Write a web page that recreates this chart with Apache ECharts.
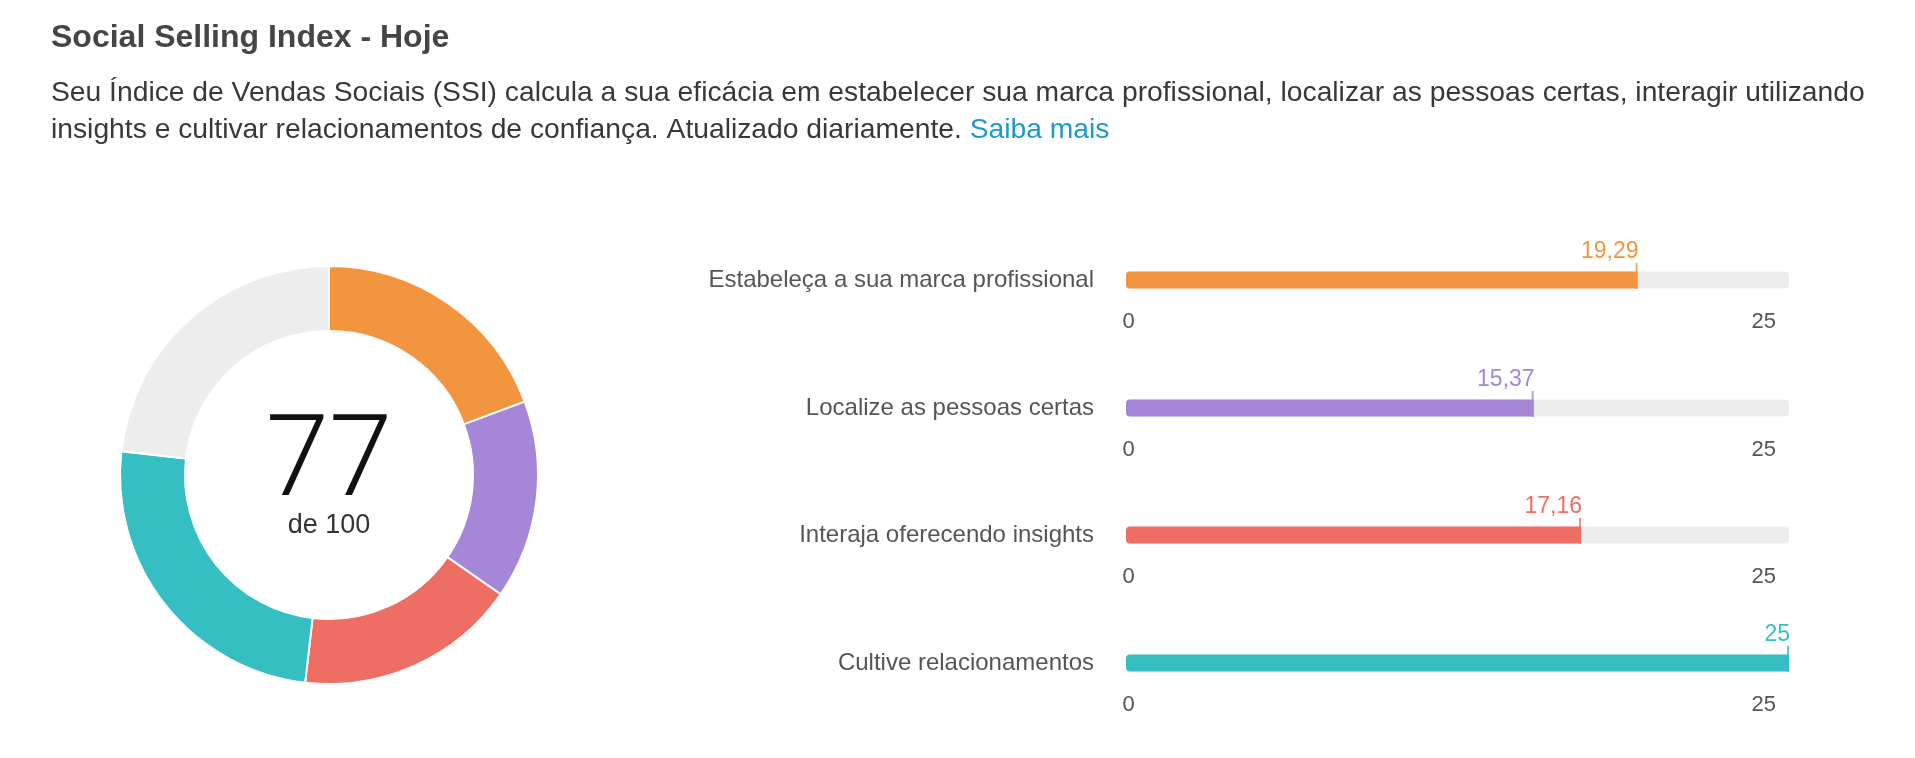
<!DOCTYPE html>
<html>
<head>
<meta charset="utf-8">
<script src="https://cdn.jsdelivr.net/npm/echarts@6/dist/echarts.min.js"></script>
<style>
html,body{margin:0;padding:0;background:#fff;}
#chart{width:1915px;height:758px;}
</style>
</head>
<body>
<div id="chart"></div>
<script>
// ---- data ----
const titleText = 'Social Selling Index - Hoje';
const descLine1 = 'Seu Índice de Vendas Sociais (SSI) calcula a sua eficácia em estabelecer sua marca profissional, localizar as pessoas certas, interagir utilizando';
const descLine2 = 'insights e cultivar relacionamentos de confiança. Atualizado diariamente. ';
const linkText = 'Saiba mais';
const categories = ['Estabeleça a sua marca profissional', 'Localize as pessoas certas', 'Interaja oferecendo insights', 'Cultive relacionamentos'];
const scores = [19.29, 15.37, 17.16, 25];
const pillarMax = 25;
const totalMax = 100;
const totalScore = 77;
const totalSubLabel = 'de 100';

// ---- styles ----
const palette = ['#F3953F', '#A586D7', '#EE6E63', '#35BFC2'];
const trackColor = '#EDEDED';
const fontFam = '"Liberation Sans", Arial, sans-serif';

const remaining = +(totalMax - scores.reduce((a, b) => a + b, 0)).toFixed(2);
const pieData = scores.map((v, i) => ({ value: v, name: categories[i], itemStyle: { color: palette[i] } }));
pieData.push({ value: remaining, name: 'resto', itemStyle: { color: trackColor } });

function fmt(v) { return Number.isInteger(v) ? String(v) : v.toFixed(2).replace('.', ','); }

const rowCenters = [280, 408, 535, 663];
const barH = 17;
const grids = [], xAxes = [], yAxes = [], series = [];

series.push({
  type: 'pie',
  center: [329, 475],
  radius: [144, 209],
  startAngle: 90,
  clockwise: true,
  silent: true,
  label: { show: false },
  labelLine: { show: false },
  itemStyle: { borderColor: '#fff', borderWidth: 2 },
  data: pieData
});

categories.forEach((c, i) => {
  grids.push({ left: 1126, width: 663, top: rowCenters[i] - barH / 2, height: barH, containLabel: false });
  xAxes.push({
    gridIndex: i, type: 'value', min: 0, max: pillarMax, interval: pillarMax,
    splitLine: { show: false }, axisLine: { show: false }, axisTick: { show: false },
    axisLabel: {
      color: '#555', fontSize: 22, fontFamily: fontFam, margin: 22,
      alignMinLabel: 'center', alignMaxLabel: 'right',
      formatter: v => (v === 0 ? '{a|' + v + '}' : '{b|' + v + '}'),
      rich: {
        a: { color: '#555', fontSize: 22, fontFamily: fontFam, padding: [0, 0, 0, 5] },
        b: { color: '#555', fontSize: 22, fontFamily: fontFam, padding: [0, 13, 0, 0] }
      }
    }
  });
  yAxes.push({
    gridIndex: i, type: 'category', data: [c],
    axisLine: { show: false }, axisTick: { show: false }, splitLine: { show: false },
    axisLabel: { color: '#555', fontSize: 24, fontFamily: fontFam, margin: 32 }
  });
  series.push({
    type: 'bar', xAxisIndex: i, yAxisIndex: i, barWidth: barH, silent: true,
    showBackground: true,
    backgroundStyle: { color: trackColor, borderRadius: 4 },
    itemStyle: { color: palette[i], borderRadius: [4, 0, 0, 4] },
    label: {
      show: true, position: ['100%', -8], align: 'right', verticalAlign: 'bottom', offset: [1, 0],
      color: palette[i], fontSize: 23, fontFamily: fontFam,
      formatter: p => fmt(p.value)
    },
    data: [scores[i]]
  });
  series.push({
    type: 'scatter', xAxisIndex: i, yAxisIndex: i, silent: true,
    symbol: 'rect', symbolSize: [2, 26], symbolOffset: [-1, -4],
    itemStyle: { color: palette[i] },
    data: [[scores[i], c]]
  });
});

const chart = echarts.init(document.getElementById('chart'), null, { renderer: 'canvas' });
chart.setOption({
  animation: false,
  backgroundColor: '#fff',
  title: [
    { text: titleText, left: 51, top: 22, padding: 0, textStyle: { fontSize: 32, fontWeight: 'bold', color: '#454545', fontFamily: fontFam } },
    {
      text: '{d|' + descLine1 + '}\n{d|' + descLine2 + '}{l|' + linkText + '}', left: 51, top: 75, padding: 0,
      textStyle: {
        fontWeight: 'normal',
        rich: {
          d: { fontSize: 28.25, fontWeight: 'normal', color: '#383838', fontFamily: fontFam, lineHeight: 37 },
          l: { fontSize: 28.25, fontWeight: 'normal', color: '#1A9BCB', fontFamily: fontFam, lineHeight: 37 }
        }
      }
    },
    { text: String(totalScore), left: 329, top: 466, padding: 0, textAlign: 'center', textVerticalAlign: 'middle',
      textStyle: { fontSize: 114, fontWeight: 300, color: '#111', fontFamily: 'Roboto, "Liberation Sans", sans-serif' } },
    { text: totalSubLabel, left: 329, top: 526, padding: 0, textAlign: 'center', textVerticalAlign: 'middle',
      textStyle: { fontSize: 27, fontWeight: 'normal', color: '#333', fontFamily: fontFam } }
  ],
  grid: grids,
  xAxis: xAxes,
  yAxis: yAxes,
  series: series
});
</script>
</body>
</html>
